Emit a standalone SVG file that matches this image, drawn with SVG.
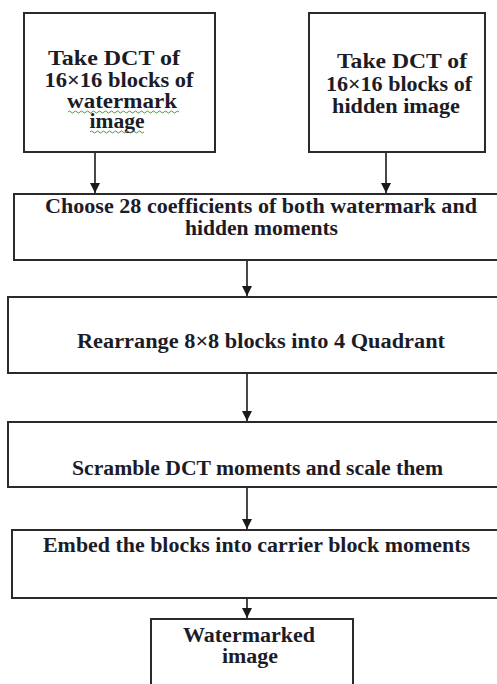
<svg xmlns="http://www.w3.org/2000/svg" width="497" height="684" viewBox="0 0 497 684">
<style>
.box{fill:#fff;stroke:#2a2a2a;stroke-width:2}
.t{font-family:"Liberation Serif","Times New Roman",serif;font-weight:bold;font-size:20px;fill:#1c1c28;text-anchor:middle}
.c{stroke:#1a1a1a;stroke-width:1.6;fill:none}
.sq{stroke:#4a9a3a;stroke-width:1;fill:none}
</style>
<defs>
<marker id="ah" viewBox="0 0 10 10" refX="10" refY="5" markerWidth="10" markerHeight="10" markerUnits="userSpaceOnUse" orient="auto">
<path d="M0,0 L10,5 L0,10 Z" fill="#1a1a1a"/>
</marker>
</defs>
<rect width="497" height="684" fill="#fff"/>
<g id="n1">
<rect class="box" x="24" y="13" width="191" height="139"/>
<text class="t" x="114" y="65" textLength="132" lengthAdjust="spacingAndGlyphs">Take DCT of</text>
<text class="t" x="119" y="87" textLength="149" lengthAdjust="spacingAndGlyphs">16×16 blocks of</text>
<text class="t" x="122" y="108" textLength="110" lengthAdjust="spacingAndGlyphs">watermark</text>
<text class="t" x="117" y="128" textLength="55" lengthAdjust="spacingAndGlyphs">image</text>
<path class="sq" d="M68,112 q1.5,-2 3,0 t3,0 t3,0 t3,0 t3,0 t3,0 t3,0 t3,0 t3,0 t3,0 t3,0 t3,0 t3,0 t3,0 t3,0 t3,0 t3,0 t3,0 t3,0 t3,0 t3,0 t3,0 t3,0 t3,0 t3,0 t3,0 t3,0 t3,0 t3,0 t3,0 t3,0 t3,0 t3,0 t3,0 t3,0 t3,0 t3,0"/>
<path class="sq" d="M90,132 q1.5,-2 3,0 t3,0 t3,0 t3,0 t3,0 t3,0 t3,0 t3,0 t3,0 t3,0 t3,0 t3,0 t3,0 t3,0 t3,0 t3,0 t3,0 t3,0"/>
</g>
<g id="n2">
<rect class="box" x="309" y="13" width="176" height="139"/>
<text class="t" x="402" y="68" textLength="130" lengthAdjust="spacingAndGlyphs">Take DCT of</text>
<text class="t" x="399" y="91" textLength="146" lengthAdjust="spacingAndGlyphs">16×16 blocks of</text>
<text class="t" x="396" y="113" textLength="128" lengthAdjust="spacingAndGlyphs">hidden image</text>
</g>
<g id="n3">
<rect class="box" x="14" y="194" width="490" height="66"/>
<text class="t" x="261" y="213" textLength="432" lengthAdjust="spacingAndGlyphs">Choose 28 coefficients of both watermark and</text>
<text class="t" x="261.5" y="235" textLength="153" lengthAdjust="spacingAndGlyphs">hidden moments</text>
</g>
<g id="n4">
<rect class="box" x="8" y="297" width="496" height="76"/>
<text class="t" x="261" y="348" textLength="368" lengthAdjust="spacingAndGlyphs">Rearrange 8×8 blocks into 4 Quadrant</text>
</g>
<g id="n5">
<rect class="box" x="8" y="422" width="496" height="65"/>
<text class="t" x="257.5" y="475" textLength="371" lengthAdjust="spacingAndGlyphs">Scramble DCT moments and scale them</text>
</g>
<g id="n6">
<rect class="box" x="12" y="530" width="492" height="68"/>
<text class="t" x="256.5" y="552" textLength="427" lengthAdjust="spacingAndGlyphs">Embed the blocks into carrier block moments</text>
</g>
<g id="n7">
<rect class="box" x="151" y="619" width="202" height="80"/>
<text class="t" x="249" y="642" textLength="132" lengthAdjust="spacingAndGlyphs">Watermarked</text>
<text class="t" x="250" y="663" textLength="56" lengthAdjust="spacingAndGlyphs">image</text>
</g>
<g id="connectors">
<line class="c" x1="95" y1="153" x2="95" y2="193" marker-end="url(#ah)"/>
<line class="c" x1="386" y1="153" x2="386" y2="193" marker-end="url(#ah)"/>
<line class="c" x1="247" y1="261" x2="247" y2="296" marker-end="url(#ah)"/>
<line class="c" x1="247" y1="374" x2="247" y2="421" marker-end="url(#ah)"/>
<line class="c" x1="247" y1="488" x2="247" y2="529" marker-end="url(#ah)"/>
<line class="c" x1="247" y1="599" x2="247" y2="618" marker-end="url(#ah)"/>
</g>
</svg>
